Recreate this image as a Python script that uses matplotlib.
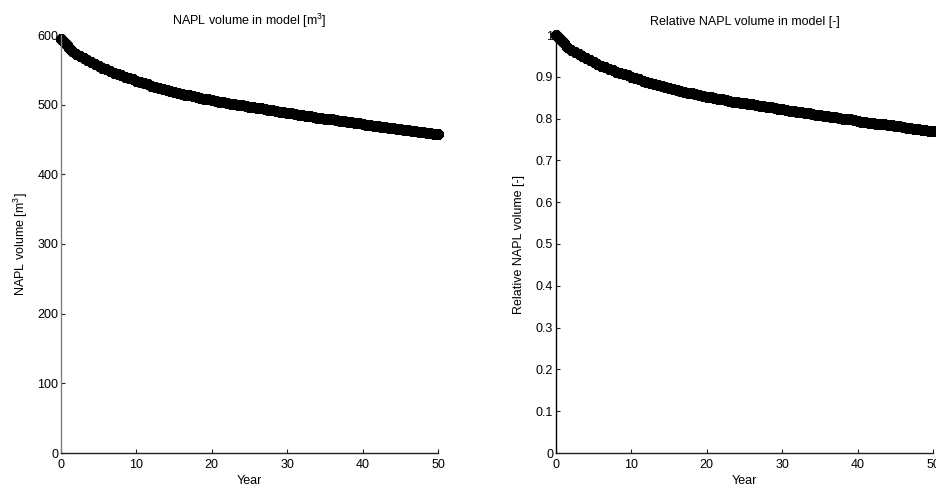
import matplotlib
matplotlib.use("Agg")
import matplotlib.pyplot as plt
from matplotlib.ticker import FuncFormatter
import numpy as np

plt.rcParams['font.family'] = ['Liberation Sans', 'DejaVu Sans']
plt.rcParams['mathtext.fontset'] = 'custom'
plt.rcParams['mathtext.rm'] = 'Liberation Sans'

# Simulation output times (years)
years = [0, 0.25, 0.5, 0.75, 1, 1.5, 2, 2.5, 3, 3.5, 4, 4.5, 5, 5.5, 6,
         6.5, 7, 7.5, 8, 8.5, 9, 9.5, 10, 10.5, 11, 11.5, 12, 12.5, 13,
         13.5, 14, 14.5, 15, 15.5, 16, 16.5, 17, 17.5, 18, 18.5, 19, 19.5,
         20, 20.5, 21, 21.5, 22, 22.5, 23, 23.5, 24, 24.5, 25, 25.5, 26,
         26.5, 27, 27.5, 28, 28.5, 29, 29.5, 30, 30.5, 31, 31.5, 32, 32.5,
         33, 33.5, 34, 34.5, 35, 35.5, 36, 36.5, 37, 37.5, 38, 38.5, 39,
         39.5, 40, 40.5, 41, 41.5, 42, 42.5, 43, 43.5, 44, 44.5, 45, 45.5,
         46, 46.5, 47, 47.5, 48, 48.5, 49, 49.5, 50]

# Total NAPL volume in the model at each output time (m^3)
napl_volume = [594, 591, 588, 585, 582, 577, 573, 570, 567, 564, 561, 558,
               555.5, 553, 550.5, 548, 546, 544, 542, 540, 538, 536.5, 534.5,
               533, 531, 529, 527.5, 526, 524.5, 523, 521.5, 520, 518.5, 517,
               516, 514.5, 513.5, 512, 511, 509.5, 508.5, 507.5, 506.5, 505.5,
               504.5, 503.5, 502.5, 501.5, 500.5, 499.5, 499, 498, 497, 496,
               495.5, 494.5, 493.5, 492.5, 492, 491, 490, 489, 488.5, 487.5,
               486.5, 485.5, 484.5, 484, 483.5, 482.5, 481.5, 481, 480, 479.5,
               479, 478, 477, 476, 475, 474.5, 474, 473, 472, 471, 470.5,
               469.5, 469, 468, 467.5, 467, 466.5, 465.5, 464.5, 464, 463.5,
               462.5, 461.5, 461, 460.5, 459.5, 459, 458, 457.5]

x_ticks = [0, 10, 20, 30, 40, 50]
vol_ticks = [0, 100, 200, 300, 400, 500, 600]
rel_ticks = [0, 0.1, 0.2, 0.3, 0.4, 0.5, 0.6, 0.7, 0.8, 0.9, 1]

t = np.array(years)
vol = np.array(napl_volume)
rel = vol / vol[0]

W, H = 937, 493
fig = plt.figure(figsize=(W / 100, H / 100), dpi=100)
ax1 = fig.add_axes([61 / W, 40 / H, 377 / W, 418 / H])
ax2 = fig.add_axes([556 / W, 40 / H, 377 / W, 418 / H])

star = (8, 2, 0)
fs = 9
ms, mew = 7.5, 2.8

def style(ax, yticks, spine_color):
    ax.set_xlim(0, 50)
    ax.set_xticks(x_ticks)
    ax.set_yticks(yticks)
    ax.yaxis.set_major_formatter(FuncFormatter(lambda v, p: f'{v:g}'))
    for s in ('top', 'right'):
        ax.spines[s].set_visible(False)
    ax.spines['left'].set_color(spine_color)
    ax.spines['bottom'].set_color('#222222')
    for s in ('left', 'bottom'):
        ax.spines[s].set_linewidth(1.0)
    ax.tick_params(direction='in', length=3, width=0.8, labelsize=fs,
                   colors='#222222', labelcolor='black')
    ax.tick_params(axis='x', pad=4)
    ax.tick_params(axis='y', pad=2)
    ax.set_xlabel('Year', fontsize=fs, labelpad=3)

ax1.plot(t, vol, linestyle='none', marker=star, markersize=ms,
         markeredgewidth=mew, color='black', clip_on=False)
ax1.set_ylim(0, 600)
style(ax1, vol_ticks, '#808080')
ax1.set_title('NAPL volume in model [m$^3$]', fontsize=fs, pad=7)
ax1.set_ylabel('NAPL volume [m$^3$]', fontsize=fs, labelpad=5)

ax2.plot(t, rel, linestyle='none', marker=star, markersize=ms,
         markeredgewidth=mew, color='black', clip_on=False)
ax2.set_ylim(0, 1)
style(ax2, rel_ticks, 'black')
ax2.set_title('Relative NAPL volume in model [-]', fontsize=fs, pad=7)
ax2.set_ylabel('Relative NAPL volume [-]', fontsize=fs, labelpad=8)

fig.savefig('out.png', dpi=100)
